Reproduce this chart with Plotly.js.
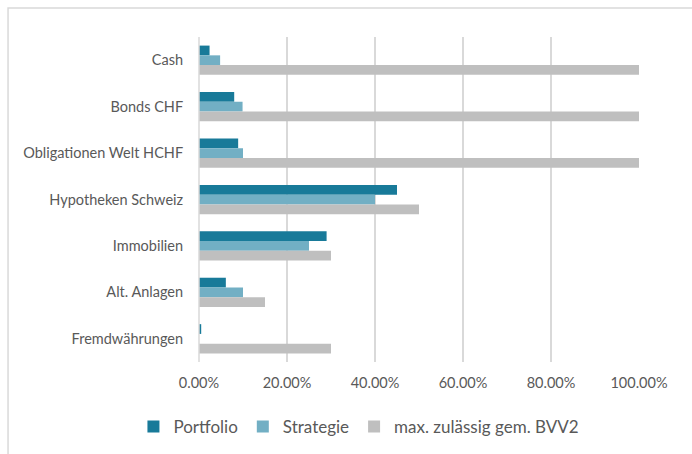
<!DOCTYPE html>
<html><head><meta charset="utf-8">
<script src="https://cdn.plot.ly/plotly-3.0.1.min.js"></script>
<style>html,body{margin:0;padding:0;background:#fff;}#chart{width:692px;height:454px;}</style>
</head><body><div id="chart"></div>
<script>
const categories = ["Cash","Bonds CHF","Obligationen Welt HCHF","Hypotheken Schweiz","Immobilien","Alt. Anlagen","Fremdwährungen"];
const portfolio = [0.024,0.080,0.089,0.450,0.290,0.061,0.005];
const strategie = [0.048,0.099,0.100,0.400,0.250,0.100,0.000];
const maxBVV2 = [1.00,1.00,1.00,0.50,0.30,0.15,0.30];
const seriesNames = ["Portfolio","Strategie","max. zulässig gem. BVV2"];
const colors = ["#187a99","#72afc4","#bfbfbf"];
const tickVals = [0,0.2,0.4,0.6,0.8,1.0];
const tickText = ["0.00%","20.00%","40.00%","60.00%","80.00%","100.00%"];

const data = [portfolio,strategie,maxBVV2].map((v,i)=>({
  type:'bar', orientation:'h', x:v, y:categories, name:seriesNames[i],
  marker:{color:colors[i]}, hoverinfo:'none'
}));
const layout = {
  width:692, height:454,
  margin:{l:199,r:53,t:37,b:92, autoexpand:false},
  paper_bgcolor:'#fff', plot_bgcolor:'#fff',
  font:{family:'Lato, "Open Sans", sans-serif', color:'#595959', size:14.5},
  barmode:'group', bargap:0.37, bargroupgap:0,
  showlegend:true,
  legend:{orientation:'h', x:-0.149, xanchor:'left', y:-0.2, yanchor:'middle',
    font:{size:17,color:'#595959'}, itemwidth:30, traceorder:'normal'},
  xaxis:{range:[0,1.0], tickvals:tickVals, ticktext:tickText, showgrid:true,
    gridcolor:'#d9d9d9', gridwidth:1.5, zeroline:false, showline:false, ticks:'outside', ticklen:8, tickcolor:'rgba(0,0,0,0)',
    fixedrange:true, automargin:false},
  yaxis:{autorange:'reversed', showgrid:false, zeroline:false, showline:false, ticks:'outside', ticklen:12, tickcolor:'rgba(0,0,0,0)',
    fixedrange:true, automargin:false},
  shapes:[
    {type:'line', xref:'paper', yref:'paper', x0:0, x1:0, y0:0, y1:1, line:{color:'#d9d9d9', width:1.5}},
    {type:'rect', xref:'paper', yref:'paper', x0:-0.434, x1:1.2, y0:-0.4, y1:1.089, line:{color:'#d9d9d9', width:1.5}, layer:'below'}
  ]
};
Plotly.newPlot('chart', data, layout, {displayModeBar:false, staticPlot:true});
</script></body></html>
